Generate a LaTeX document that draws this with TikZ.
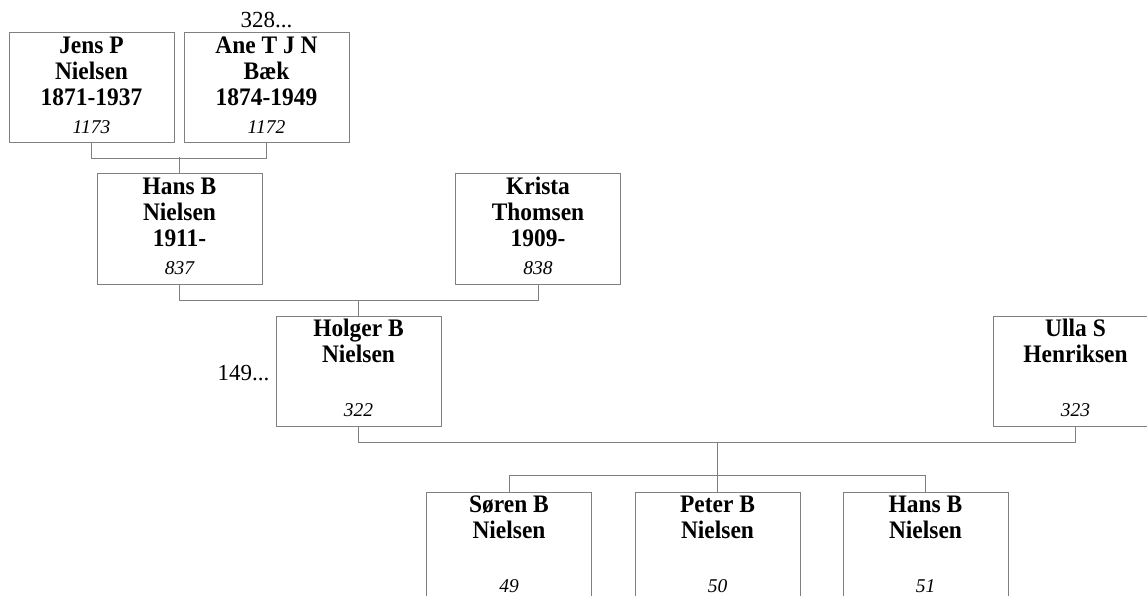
\documentclass[tikz,border=0pt]{standalone}
\usepackage{fontspec}
\setmainfont{Liberation Serif}
\newfontfamily\namefont[FakeStretch=0.93]{Liberation Serif}
\usetikzlibrary{shapes}
\tikzstyle{person} = [draw=black!50, line width=1pt, rectangle, inner sep=0pt,
minimum width=165pt, minimum height=110pt]
\tikzstyle{nm} = [anchor=north, align=center, inner sep=0pt, yshift=-2.8pt,
font=\namefont\fontsize{25.2}{26}\selectfont\bfseries]
\tikzstyle{num} = [anchor=base, inner sep=0pt, yshift=10pt,
font=\fontsize{19.5}{22}\selectfont\itshape]
\tikzstyle{more} = [inner sep=0pt, font=\fontsize{23}{26}\selectfont]
\tikzstyle{line} = [draw=black!50, line width=1pt]

\begin{document}
\begin{tikzpicture}[x=1pt, y=1pt]
    \clip (0,0) rectangle (1147,-596);
    % We start by placing the grandparents
    \node [person, label={[nm]north:{\strut Jens P\\Nielsen\\1871-1937}}, label={[num]south:1173}] (jens) at (91.5,-88) {};
    \node [person, right of=jens, node distance=175pt, label={[nm]north:{\strut Ane T J N\\B\ae k\\1874-1949}}, label={[num]south:1172},
    label={[more, anchor=base, yshift=5pt]north:328...}] (ane) {};
    % parents
    \node [person, label={[nm]north:{\strut Hans B\\Nielsen\\1911-}}, label={[num]south:837}] (hans) at (179.5,-229) {};
    \node [person, right of=hans, node distance=358.5pt, label={[nm]north:{\strut Krista\\Thomsen\\1909-}}, label={[num]south:838}] (krista) {};
    % the couple
    \node [person, label={[nm]north:{\strut Holger B\\Nielsen}}, label={[num]south:322},
    label={[more, anchor=base east, xshift=-6pt, yshift=-9pt]west:149...}] (holger) at (358.5,-371) {};
    \node [person, right of=holger, node distance=717pt, label={[nm]north:{\strut Ulla S\\Henriksen}}, label={[num]south:323}] (ulla) {};
    % children
    \node [person, label={[nm]north:{\strut S\o ren B\\Nielsen}}, label={[num]south:49}] (soren) at (509,-547) {};
    \node [person, right of=soren, node distance=208.5pt, label={[nm]north:{\strut Peter B\\Nielsen}}, label={[num]south:50}] (peter) {};
    \node [person, right of=peter, node distance=208pt, label={[nm]north:{\strut Hans B\\Nielsen}}, label={[num]south:51}] (hansB) {};

    % Once the nodes are placed, connecting them is easy.
    \draw [line] (jens.south) -- ++(0,-15) -| (ane.south);
    \draw [line] (hans.north) -- ++(0,16);
    \draw [line] (hans.south) -- ++(0,-16) -| (krista.south);
    \draw [line] (holger.north) -- ++(0,16);
    \draw [line] (holger.south) -- ++(0,-16) -| (ulla.south);
    \draw [line] (peter.north) -- ++(0,50);
    \draw [line] (soren.north) -- ++(0,16) -| (hansB.north);
\end{tikzpicture}
\end{document}
